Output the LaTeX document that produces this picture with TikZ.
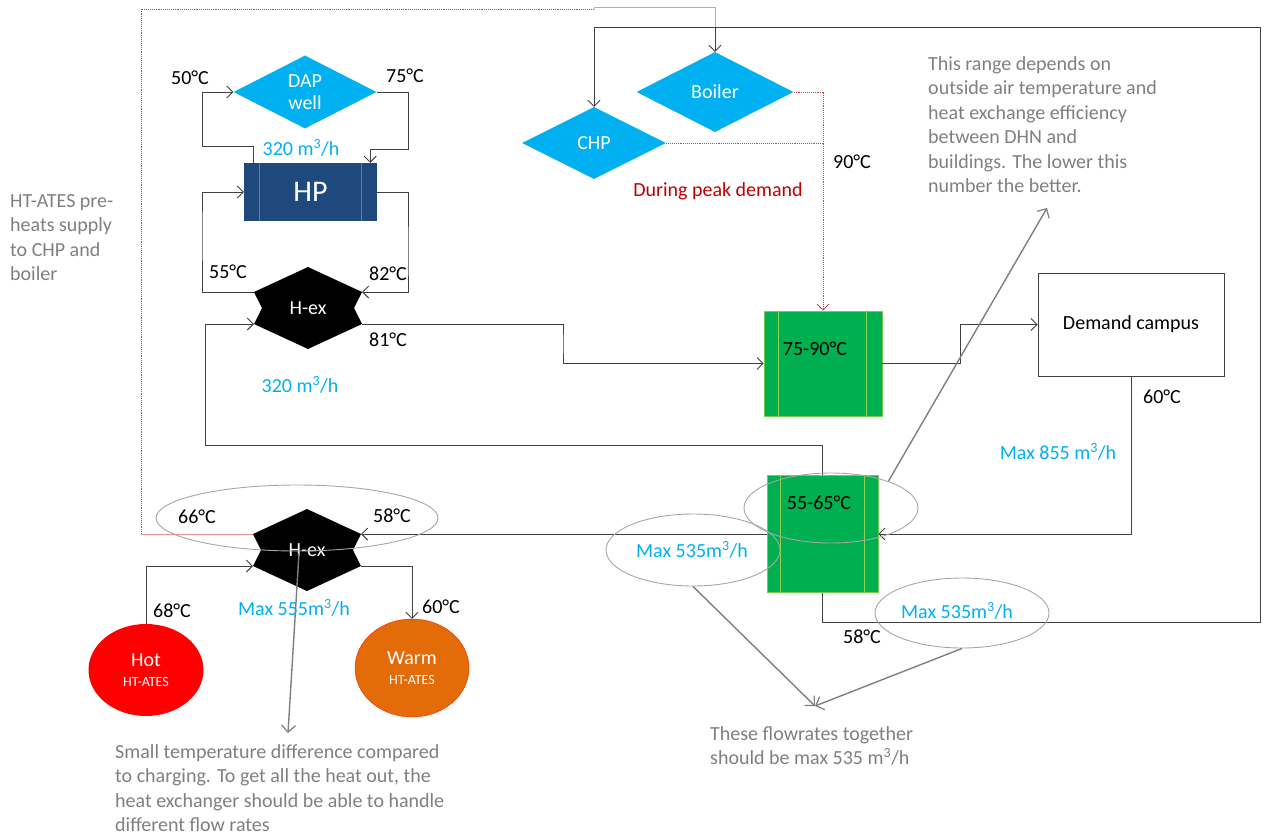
\documentclass[tikz,border=0pt]{standalone}
\usepackage{fontspec}
\setmainfont{Carlito}
\usetikzlibrary{shapes.geometric,arrows.meta,calc}
\definecolor{skyb}{RGB}{0,176,240}
\definecolor{hpblue}{RGB}{31,73,125}
\definecolor{hpline}{RGB}{79,129,189}
\definecolor{grn}{RGB}{0,176,80}
\definecolor{grnline}{RGB}{146,208,80}
\definecolor{linec}{RGB}{64,64,64}
\definecolor{annog}{RGB}{127,127,127}
\definecolor{ellg}{RGB}{166,166,166}
\definecolor{darkred}{RGB}{192,0,0}
\definecolor{dotred}{RGB}{200,70,70}
\definecolor{pinkl}{RGB}{230,150,150}
\definecolor{warmc}{RGB}{227,108,9}
\newcommand\hexex[3]{%
  \path (#2,#3) ++(0,-41) coordinate (#1-t);
  \path (#2,#3) ++(-54,-16) coordinate (#1-ul);
  \path (#2,#3) ++(-46,0) coordinate (#1-nl);
  \path (#2,#3) ++(-54,16) coordinate (#1-ll);
  \path (#2,#3) ++(0,41) coordinate (#1-b);
  \path (#2,#3) ++(54,16) coordinate (#1-lr);
  \path (#2,#3) ++(46,0) coordinate (#1-nr);
  \path (#2,#3) ++(54,-16) coordinate (#1-ur);
  \fill[black] (#1-t) -- (#1-ur) -- (#1-nr) -- (#1-lr) -- (#1-b) -- (#1-ll) -- (#1-nl) -- (#1-ul) -- cycle;
  \node[white] (#1) at (#2,#3) {H-ex};
}
\begin{document}
\begin{tikzpicture}[x=1pt,y=-1pt,
  font=\fontsize{20}{24.5}\selectfont,
  conn/.style={draw=linec, line width=0.9pt},
  arr/.style={-{Straight Barb[length=6pt,width=12pt,line width=0.9pt]}},
  reddot/.style={draw=dotred, line width=0.9pt, densely dotted},
  pinkline/.style={draw=pinkl, line width=0.9pt},
  dia/.style={diamond, fill=skyb, text=white, inner sep=0pt, align=center},
  lbl/.style={text=black, inner sep=0pt},
  blu/.style={text=skyb, inner sep=0pt},
  anno/.style={text=annog, inner sep=0pt, align=left, anchor=north west},
  ell/.style={ellipse, draw=ellg, line width=0.9pt, inner sep=0pt},
  callout/.style={draw=annog, line width=1.4pt, -{Straight Barb[length=7pt,width=14pt,line width=1.2pt]}},
  gbox/.style={fill=grn, draw=grnline!80!grn, line width=0.6pt, inner sep=0pt}
]
\useasboundingbox (0,0) rectangle (1269,836);

% ---------- top: DAP well and HP ----------
\node[dia, minimum width=143, minimum height=73] (dap) at (305,92) {DAP\\[-3pt]well};
\node[fill=hpblue, minimum width=133, minimum height=58, inner sep=0pt] (hp) at (310.5,192) {};
\path (hp.north west) ++(16,0) coordinate (hpl1) ++(0,58) coordinate (hpl2);
\path (hp.north east) ++(-16,0) coordinate (hpr1) ++(0,58) coordinate (hpr2);
\draw[hpline, line width=0.8pt] (hpl1) -- (hpl2) (hpr1) -- (hpr2);
\node[text=white, font=\fontsize{30}{32}\selectfont] (hptxt) at (hp.center) {HP};

\hexex{hexA}{308}{308}

\draw[conn,arr] ([xshift=10pt]hp.north west) |- (202,146) |- (dap.west);
\draw[conn,arr] (dap.east) -| (408,149) -| ([xshift=-7pt]hp.north east);
\draw[conn,arr] (hexA-ul) -| (202,230) |- (hp.west);
\draw[conn,arr] (hp.east) -| (408,260) |- (hexA-ur);

\node[lbl] (l50) at (190,78) {50°C};
\node[lbl] (l75) at (405,76) {75°C};
\node[blu] (f320a) at (301,148) {320 m\textsuperscript{3}/h};
\node[lbl] (l55) at (228,272) {55°C};
\node[lbl] (l82) at (388,274) {82°C};
\node[lbl] (l81) at (388,340) {81°C};
\node[blu] (f320b) at (300,385) {320 m\textsuperscript{3}/h};

% ---------- green exchangers and demand ----------
\node[gbox, minimum width=118, minimum height=105] (g1) at (823,363.5) {};
\draw[grnline, line width=0.6pt] ([xshift=15pt]g1.north west) -- ([xshift=15pt]g1.south west)
  ([xshift=-16pt]g1.north east) -- ([xshift=-16pt]g1.south east);
\node[lbl] (t7590) at (815,349) {75-90°C};

\node[gbox, minimum width=111, minimum height=117] (g2) at (822.5,534) {};
\draw[grnline, line width=0.6pt] ([xshift=14pt]g2.north west) -- ([xshift=14pt]g2.south west)
  ([xshift=-14pt]g2.north east) -- ([xshift=-14pt]g2.south east);
\node[lbl] (t5565) at (819,503) {55-65°C};

\node[draw=linec, line width=0.9pt, minimum width=186, minimum height=103, inner sep=0pt] (dem) at (1131,324.5) {Demand campus};

\draw[conn,arr] (hexA-lr) -| (563,344) |- (g1.west);
\draw[conn,arr] (g2.north) |- (205,445) |- (hexA-ll);
\draw[conn,arr] (g1.east) -| (960,344) |- (dem.west);
\draw[conn,arr] (dem.south) |- (g2.east);

\node[lbl] (l60a) at (1162,397) {60°C};
\node[blu] (f855) at (1058,452) {Max 855 m\textsuperscript{3}/h};

% ---------- boiler and CHP ----------
\node[dia, minimum width=157, minimum height=80] (boiler) at (715,92) {Boiler};
\node[dia, minimum width=144, minimum height=72] (chp) at (594,143) {CHP};
\coordinate (jb) at (715,27);
\coordinate (jc) at (594,27);
\coordinate (loopbr) at (1260,622);
\coordinate (rl) at (141,534);
\coordinate (rt) at (141,9);
\coordinate (rm) at (594,9);
\coordinate (rp) at (594,7);
\coordinate (rq) at (715,7);

\draw[reddot] (rl) -- (rt) -- (rm);
\draw[pinkline] (rm) -- (rp) -- (rq) -- (jb);
\draw[conn,arr] (g2.south) |- (loopbr) |- (jc) -- (chp.north);
\draw[conn,arr] (jb) -- (boiler.north);
\draw[reddot, -{Straight Barb[length=6pt,width=12pt,line width=0.9pt]}, draw=dotred] (boiler.east) -| (g1.north);
\draw[reddot] (chp.east) -- (chp.east -| g1.north);

\node[text=darkred, inner sep=0pt] (peak) at (718,191) {During peak demand};
\node[lbl] (l90) at (852,162) {90°C};

% ---------- bottom H-ex and HT-ATES ----------
\hexex{hexB}{307}{550}
\draw[pinkline] (hexB-ul) -- (rl);
\node[ellipse, fill=red, minimum width=115, minimum height=92, inner sep=0pt, text=white, align=center] (hot) at (146,670) {Hot\\[-4pt]{\fontsize{14}{16}\selectfont HT-ATES}};
\node[ellipse, fill=warmc, draw=red!70!warmc, minimum width=114, minimum height=98, inner sep=0pt, text=white, align=center] (warm) at (412,668) {Warm\\[-4pt]{\fontsize{14}{16}\selectfont HT-ATES}};

\draw[conn,arr] (g2.west) -- (hexB-ur);
\draw[conn,arr] (hot.north) |- (hexB-ll);
\draw[conn,arr] (hexB-lr) -| (warm.north);

\node[lbl] (l66) at (197,517) {66°C};
\node[lbl] (l58a) at (392,516) {58°C};
\node[lbl] (l68) at (172,611) {68°C};
\node[lbl] (l60b) at (441,607) {60°C};
\node[blu] (f555) at (294,608) {Max 555m\textsuperscript{3}/h};
\node[lbl] (l58b) at (862,637) {58°C};
\node[blu] (f535a) at (692,550) {Max 535m\textsuperscript{3}/h};
\node[blu] (f535b) at (957,611) {Max 535m\textsuperscript{3}/h};

% ---------- callout ellipses ----------
\node[ell, minimum width=282, minimum height=66] (e1) at (297,518) {};
\node[ell, minimum width=174, minimum height=70] (e2) at (831,508) {};
\node[ell, minimum width=174, minimum height=72] (e3) at (693,550) {};
\node[ell, minimum width=174, minimum height=70] (e4) at (962,613) {};

% ---------- annotations ----------
\node[anno] (a1) at (10,194) {HT-ATES pre-\\heats supply\\to CHP and\\boiler};
\node[anno] (a2) at (928,56) {This range depends on\\outside air temperature and\\heat exchange efficiency\\between DHN and\\buildings. The lower this\\number the better.};
\node[anno] (a3) at (115,744) {Small temperature difference compared\\to charging. To get all the heat out, the\\heat exchanger should be able to handle\\different flow rates};
\node[anno] (a4) at (710,726) {These flowrates together\\should be max 535 m\textsuperscript{3}/h};

\coordinate (c1) at (288,733);
\coordinate (c2) at (1047,208);
\coordinate (c3) at (815,706);
\draw[callout] (299,553) -- (c1);
\draw[callout] (e2.25) -- (c2);
\draw[callout] (e3.south) -- (c3);
\draw[callout] (e4.south) -- (c3);
\end{tikzpicture}
\end{document}
